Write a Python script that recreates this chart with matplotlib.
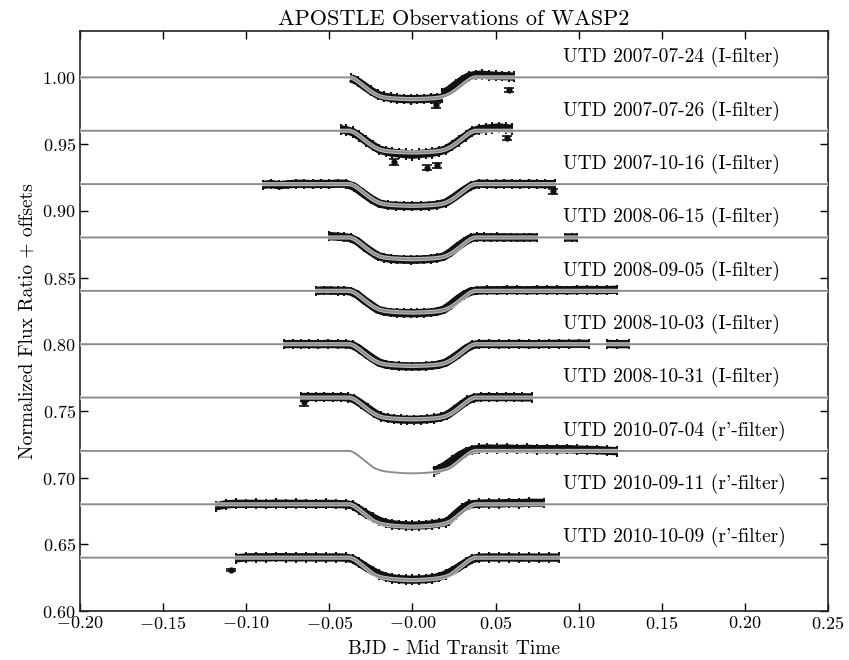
import numpy as np
import matplotlib
matplotlib.use("Agg")
import matplotlib.pyplot as plt

plt.rcParams['font.family'] = 'serif'
plt.rcParams['font.serif'] = ['cmr10']
plt.rcParams['mathtext.fontset'] = 'cm'
plt.rcParams['axes.formatter.use_mathtext'] = True
plt.rcParams['axes.unicode_minus'] = True

# transit model (depth below baseline)
model_t = [-0.20, -0.0375, -0.035, -0.032, -0.029, -0.026, -0.023, -0.020, -0.017, -0.013,
           -0.008, -0.004, 0.0, 0.004, 0.008, 0.013, 0.017, 0.020, 0.023, 0.026, 0.029,
           0.032, 0.035, 0.0375, 0.25]
depth_I = [0, 0, 0.0012, 0.0038, 0.0068, 0.0097, 0.0122, 0.0140, 0.0150, 0.0156,
           0.0160, 0.0162, 0.0163, 0.0162, 0.0160, 0.0156, 0.0150, 0.0140, 0.0122, 0.0097,
           0.0068, 0.0038, 0.0012, 0, 0]
depth_r = [0, 0, 0.0013, 0.0040, 0.0070, 0.0100, 0.0128, 0.0143, 0.0152, 0.0159,
           0.0164, 0.0167, 0.0168, 0.0167, 0.0164, 0.0159, 0.0152, 0.0143, 0.0128, 0.0100,
           0.0070, 0.0040, 0.0013, 0, 0]

labels = ["UTD 2007-07-24 (I-filter)", "UTD 2007-07-26 (I-filter)", "UTD 2007-10-16 (I-filter)",
          "UTD 2008-06-15 (I-filter)", "UTD 2008-09-05 (I-filter)", "UTD 2008-10-03 (I-filter)",
          "UTD 2008-10-31 (I-filter)", "UTD 2010-07-04 (r'-filter)", "UTD 2010-09-11 (r'-filter)",
          "UTD 2010-10-09 (r'-filter)"]
offsets = [0.0, -0.04, -0.08, -0.12, -0.16, -0.20, -0.24, -0.28, -0.32, -0.36]
filters = ['I', 'I', 'I', 'I', 'I', 'I', 'I', 'r', 'r', 'r']

# binned-by-eye light curves (normalized flux, nan = gap in coverage)
t1 = [-0.037, -0.033, -0.029, -0.025, -0.021, -0.017, -0.013, -0.009, -0.005, -0.001, 0.003,
      0.007, 0.011, 0.015, 0.018, np.nan, 0.018, 0.022, 0.026, 0.030, 0.034, 0.038, 0.042,
      0.046, 0.050, 0.054, 0.058, 0.061]
f1 = [0.9995, 0.9970, 0.9935, 0.9900, 0.9870, 0.9855, 0.9847, 0.9840, 0.9838, 0.9836, 0.9838,
      0.9838, 0.9842, 0.9845, 0.9848, np.nan, 0.9880, 0.9905, 0.9945, 0.9980, 1.0008, 1.0018,
      1.0020, 1.0015, 1.0012, 1.0010, 1.0008, 1.0005]

t2 = [-0.043, -0.040, -0.036, -0.032, -0.028, -0.024, -0.020, -0.016, -0.012, -0.008, -0.004,
      0.000, 0.004, 0.008, 0.012, 0.016, 0.020, 0.024, 0.028, 0.032, 0.036, 0.040, 0.044,
      0.048, 0.052, 0.056, 0.060]
f2 = [1.0010, 1.0005, 0.9990, 0.9960, 0.9925, 0.9890, 0.9860, 0.9845, 0.9835, 0.9830, 0.9825,
      0.9820, 0.9825, 0.9830, 0.9835, 0.9845, 0.9860, 0.9890, 0.9925, 0.9960, 0.9995, 1.0010,
      1.0015, 1.0020, 1.0025, 1.0020, 1.0015]

t3 = [-0.090, -0.085, -0.080, -0.075, -0.070, -0.065, -0.060, -0.055, -0.050, -0.045, -0.040,
      -0.035, -0.030, -0.025, -0.020, -0.015, -0.010, -0.005, 0.000, 0.005, 0.010, 0.015,
      0.020, 0.025, 0.030, 0.035, 0.040, 0.045, 0.050, 0.055, 0.060, 0.065, 0.070, 0.075,
      0.080, 0.086]
f3 = [0.9995, 1.0000, 0.9992, 0.9998, 1.0003, 1.0002, 1.0000, 1.0002, 1.0000, 1.0004, 1.0002,
      0.9980, 0.9935, 0.9890, 0.9855, 0.9842, 0.9838, 0.9836, 0.9835, 0.9836, 0.9838, 0.9845,
      0.9860, 0.9900, 0.9945, 0.9985, 1.0003, 1.0002, 1.0000, 1.0003, 1.0001, 1.0000, 1.0002,
      1.0000, 0.9999, 1.0000]

t4 = [-0.050, -0.045, -0.041, -0.037, -0.033, -0.029, -0.025, -0.021, -0.017, -0.013, -0.009,
      -0.005, -0.001, 0.003, 0.007, 0.011, 0.015, 0.019, 0.023, 0.027, 0.031, 0.035, 0.039,
      0.043, 0.047, 0.051, 0.055, 0.059, 0.063, 0.067, 0.071, 0.075, np.nan, 0.092, 0.096, 0.099]
f4 = [1.0010, 1.0006, 1.0002, 0.9995, 0.9970, 0.9930, 0.9895, 0.9862, 0.9848, 0.9840, 0.9836,
      0.9834, 0.9833, 0.9834, 0.9836, 0.9840, 0.9846, 0.9858, 0.9890, 0.9930, 0.9965, 0.9995,
      1.0003, 1.0002, 1.0000, 1.0002, 1.0000, 1.0001, 0.9999, 1.0000, 1.0001, 1.0000, np.nan,
      1.0000, 1.0000, 1.0000]

t5 = [-0.058, -0.053, -0.049, -0.045, -0.041, -0.037, -0.033, -0.029, -0.025, -0.021, -0.017,
      -0.013, -0.009, -0.005, -0.001, 0.003, 0.007, 0.011, 0.015, 0.019, 0.023, 0.027, 0.031,
      0.035, 0.039, 0.045, 0.051, 0.057, 0.063, 0.069, 0.075, 0.081, 0.087, 0.093, 0.099,
      0.105, 0.111, 0.117, 0.123]
f5 = [1.0000, 1.0003, 1.0002, 1.0000, 1.0001, 0.9995, 0.9970, 0.9930, 0.9895, 0.9860, 0.9845,
      0.9838, 0.9835, 0.9833, 0.9832, 0.9833, 0.9835, 0.9838, 0.9845, 0.9860, 0.9895, 0.9935,
      0.9970, 0.9995, 1.0002, 1.0005, 1.0004, 1.0006, 1.0005, 1.0004, 1.0006, 1.0005, 1.0006,
      1.0004, 1.0006, 1.0007, 1.0005, 1.0006, 1.0008]

t6 = [-0.077, -0.072, -0.067, -0.062, -0.057, -0.051, -0.045, -0.040, -0.036,
      -0.032, -0.028, -0.024, -0.020, -0.016, -0.012, -0.008, -0.004, 0.000, 0.004, 0.008,
      0.012, 0.016, 0.020, 0.024, 0.028, 0.032, 0.036, 0.040, 0.046, 0.052, 0.058, 0.064,
      0.070, 0.076, 0.082, 0.088, 0.094, 0.100, 0.106, np.nan, 0.117, 0.123, 0.130]
f6 = [1.0000, 1.0002, 1.0000, 1.0001, 1.0000, 1.0002, 1.0000, 1.0000, 0.9993,
      0.9965, 0.9928, 0.9893, 0.9862, 0.9847, 0.9840, 0.9836, 0.9834, 0.9833, 0.9834, 0.9836,
      0.9840, 0.9847, 0.9862, 0.9893, 0.9928, 0.9965, 0.9993, 1.0001, 1.0002, 1.0000, 1.0001,
      1.0002, 1.0000, 1.0001, 1.0002, 1.0003, 1.0002, 1.0004, 1.0002, np.nan, 1.0002, 1.0000,
      1.0001]

t7 = [-0.067, -0.063, -0.058, -0.053, -0.048, -0.043, -0.039, -0.035, -0.031, -0.027, -0.023,
      -0.019, -0.015, -0.011, -0.007, -0.003, 0.001, 0.005, 0.009, 0.013, 0.017, 0.021, 0.025,
      0.029, 0.033, 0.037, 0.041, 0.046, 0.051, 0.056, 0.061, 0.066, 0.072]
f7 = [1.0003, 1.0005, 1.0004, 1.0005, 1.0003, 1.0004, 1.0001, 0.9988, 0.9955, 0.9920, 0.9885,
      0.9858, 0.9846, 0.9840, 0.9836, 0.9834, 0.9834, 0.9835, 0.9838, 0.9843, 0.9852, 0.9870,
      0.9905, 0.9942, 0.9978, 0.9998, 1.0003, 1.0004, 1.0002, 1.0004, 1.0003, 1.0002, 1.0001]

t8 = [0.013, 0.016, 0.020, 0.024, 0.028, 0.032, 0.036, 0.040, 0.045, 0.051, 0.057, 0.063,
      0.069, 0.075, 0.081, 0.087, 0.093, 0.099, 0.105, 0.111, 0.117, 0.123]
f8 = [0.9848, 0.9865, 0.9892, 0.9928, 0.9963, 0.9990, 1.0008, 1.0016, 1.0018, 1.0016, 1.0018,
      1.0014, 1.0016, 1.0013, 1.0014, 1.0012, 1.0014, 1.0010, 1.0008, 1.0006, 1.0002, 0.9998]

t9 = [-0.118, -0.112, -0.106, -0.100, -0.094, -0.088, -0.082, -0.076, -0.070, -0.064, -0.058,
      -0.052, -0.046, -0.040, -0.036, -0.032, -0.028, -0.024, -0.020, -0.016, -0.012, -0.008,
      -0.004, 0.000, 0.004, 0.008, 0.012, 0.016, 0.020, 0.022, 0.026, 0.030, 0.034, 0.040,
      0.046, 0.052, 0.058, 0.064, 0.070, 0.079]
f9 = [0.9985, 1.0000, 1.0004, 1.0003, 1.0004, 1.0002, 1.0005, 1.0003, 1.0004, 1.0003, 1.0002,
      1.0004, 1.0002, 1.0000, 0.9992, 0.9962, 0.9930, 0.9902, 0.9876, 0.9860, 0.9850, 0.9845,
      0.9842, 0.9840, 0.9842, 0.9845, 0.9850, 0.9858, 0.9866, 0.9880, 0.9925, 0.9968, 0.9998,
      1.0005, 1.0007, 1.0006, 1.0010, 1.0008, 1.0012, 1.0010]

t10 = [-0.106, -0.100, -0.094, -0.088, -0.082, -0.076, -0.070, -0.064, -0.058, -0.052, -0.046,
       -0.040, -0.036, -0.032, -0.028, -0.024, -0.020, -0.016, -0.012, -0.008, -0.004, 0.000,
       0.004, 0.008, 0.012, 0.016, 0.020, 0.024, 0.028, 0.032, 0.036, 0.040, 0.046, 0.052,
       0.058, 0.064, 0.070, 0.076, 0.082, 0.088]
f10 = [0.9995, 1.0002, 1.0003, 1.0002, 1.0004, 1.0003, 1.0002, 1.0003, 1.0002, 1.0001, 1.0002,
       1.0000, 0.9990, 0.9962, 0.9930, 0.9900, 0.9874, 0.9856, 0.9845, 0.9839, 0.9836, 0.9835,
       0.9836, 0.9839, 0.9845, 0.9856, 0.9874, 0.9900, 0.9930, 0.9962, 0.9990, 1.0000, 1.0002,
       1.0001, 1.0002, 1.0000, 1.0001, 1.0000, 1.0001, 1.0000]

errs = [0.0040, 0.0044, 0.0036, 0.0036, 0.0036, 0.0036, 0.0038, 0.0040, 0.0040, 0.0040]

# isolated points with larger error bars: night index, time, normalized flux, error
out_night = [0, 0, 1, 1, 1, 1, 2, 6, 9]
out_t = [0.014, 0.058, -0.011, 0.0085, 0.0145, 0.057, 0.0845, -0.065, -0.109]
out_f = [0.9790, 0.9905, 0.9765, 0.9722, 0.9740, 0.9945, 0.9945, 0.9965, 0.9906]
out_e = [0.0016, 0.0014, 0.0020, 0.0018, 0.0016, 0.0016, 0.0016, 0.0030, 0.0008]

times = [t1, t2, t3, t4, t5, t6, t7, t8, t9, t10]
fluxes = [f1, f2, f3, f4, f5, f6, f7, f8, f9, f10]

fig = plt.figure(figsize=(8.49, 6.6), dpi=100)
ax = fig.add_axes([0.0942, 0.0742, 0.8811, 0.8793])

mt = np.array(model_t)
for i in range(10):
    off = offsets[i]
    dep = np.array(depth_I if filters[i] == 'I' else depth_r)
    mf = 1.0 - dep + off
    ax.plot(mt, mf, color='#8c8c8c', lw=1.3, zorder=1)

    t = np.array(times[i])
    f = np.array(fluxes[i]) + off
    ax.plot(t, f, color='#111111', lw=6, solid_capstyle='butt', zorder=2)
    ax.errorbar(t, f, yerr=errs[i], fmt='none', ecolor='#111111',
                elinewidth=1.4, capsize=0, zorder=2)

    ax.plot(mt, mf, color='white', lw=3.0, alpha=0.7, zorder=3)
    ax.plot(mt, mf, color='#8c8c8c', lw=1.3, zorder=4)

    ax.text(0.0905, 1.0152 + off, labels[i], fontsize=14, ha='left', va='center', zorder=5)

for n, x, y, e in zip(out_night, out_t, out_f, out_e):
    ax.errorbar(x, y + offsets[n], yerr=e, fmt='o', ms=3.5, color='#111111', ecolor='#111111',
                elinewidth=1.2, capsize=3.5, capthick=1.2, zorder=2)

ax.set_xlim(-0.20, 0.25)
ax.set_ylim(0.60, 1.035)
ax.set_xticks(np.arange(-0.20, 0.2501, 0.05))
ax.set_yticks([0.60, 0.65, 0.70, 0.75, 0.80, 0.85, 0.90, 0.95, 1.00])
ax.xaxis.set_major_formatter(matplotlib.ticker.FormatStrFormatter('$%.2f$'))
ax.yaxis.set_major_formatter(matplotlib.ticker.FormatStrFormatter('$%.2f$'))
ax.tick_params(direction='in', length=6, width=1.0, top=True, right=True, labelsize=13, pad=3)
for s in ax.spines.values():
    s.set_linewidth(1.2)
    s.set_color('#222222')

ax.set_xlabel("BJD - Mid Transit Time", fontsize=14, labelpad=6)
ax.set_ylabel("Normalized Flux Ratio + offsets", fontsize=14, labelpad=4)
ax.set_title("APOSTLE Observations of WASP2", fontsize=16, pad=4)

fig.savefig("out.png", dpi=100)
